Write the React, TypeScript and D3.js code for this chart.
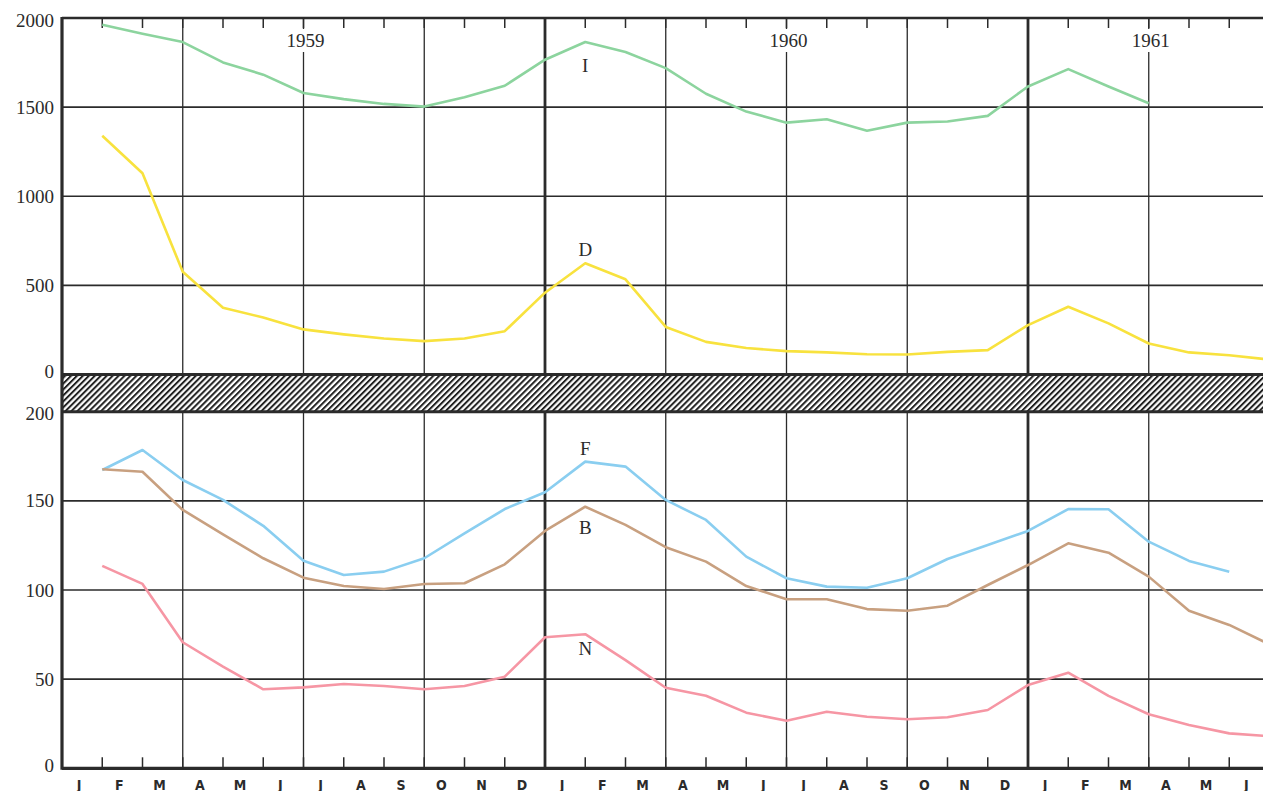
import * as d3 from "d3";

// month initials along the bottom, Jan 1959 .. Jun 1961
const monthLabels = [
  "J", "F", "M", "A", "M", "J", "J", "A", "S", "O", "N", "D",
  "J", "F", "M", "A", "M", "J", "J", "A", "S", "O", "N", "D",
  "J", "F", "M", "A", "M", "J",
];
const yearLabels = ["1959", "1960", "1961"];
const yearLabelPos = [6, 18, 27];

const topTicks = [0, 500, 1000, 1500, 2000];
const bottomTicks = [0, 50, 100, 150, 200];

// values start at the first month boundary (index 1)
const seriesI = [
  1962, 1912, 1865, 1751, 1682, 1579, 1545, 1518, 1503, 1556, 1620, 1766,
  1865, 1809, 1719, 1575, 1475, 1413, 1432, 1368, 1413, 1419, 1451, 1616,
  1713, 1616, 1522,
];
const seriesD = [
  1339, 1129, 576, 374, 320, 253, 225, 202, 187, 202, 243, 459,
  624, 534, 267, 183, 149, 131, 124, 114, 112, 127, 137, 277,
  380, 287, 174, 124, 108, 84,
];
const seriesF = [
  167.3, 178.5, 161.7, 150.5, 136, 116.4, 108.4, 110.3, 117.8, 131.8, 145.4, 154.8,
  172, 169.2, 150.5, 139.3, 118.7, 106.6, 101.9, 101.3, 106.6, 117.4, 125.2, 133.1,
  145.4, 145.3, 127.1, 116.3, 110.3,
];
const seriesB = [
  167.7, 166.3, 144.9, 131.2, 117.8, 106.9, 102.2, 100.6, 103.4, 103.8, 114.4, 133.1,
  146.7, 136.5, 124, 115.9, 102.2, 94.8, 94.8, 89.3, 88.4, 91.2, 102.8, 114,
  126.2, 120.9, 107.5, 88.4, 80.4, 69.5,
];
const seriesN = [
  113.5, 103.4, 70.7, 57, 44.3, 45.4, 47.3, 46.2, 44.3, 46.2, 51.4, 73.5,
  75.2, 60.7, 45.2, 40.7, 31.2, 26.7, 31.7, 28.9, 27.5, 28.6, 32.7, 46.7,
  53.6, 40.6, 30.3, 24.3, 19.6, 18,
];

const W = 1263;
const H = 791;
const ink = "#2b2b2b";
const serif = "'Liberation Serif', 'DejaVu Serif', serif";

export default function App() {
  const x = d3.scaleLinear().domain([0, 30]).range([62, 1269.5]);
  const yTop = d3.scaleLinear().domain([0, 2000]).range([374.5, 18]);
  const yBot = d3.scaleLinear().domain([0, 200]).range([768.3, 411.7]);

  const lineTop = d3
    .line<number>()
    .x((d, i) => x(i + 1))
    .y((d) => yTop(d));
  const lineBot = d3
    .line<number>()
    .x((d, i) => x(i + 1))
    .y((d) => yBot(d));

  const series = [
    { data: seriesI, line: lineTop, color: "rgb(140,212,158)" },
    { data: seriesD, line: lineTop, color: "rgb(248,226,62)" },
    { data: seriesF, line: lineBot, color: "rgb(138,206,240)" },
    { data: seriesB, line: lineBot, color: "rgb(200,160,128)" },
    { data: seriesN, line: lineBot, color: "rgb(246,150,164)" },
  ];

  const months = d3.range(0, 31);
  const gridMonths = months.filter((m) => m % 3 === 0 && m > 0);
  const tickMonths = months.filter((m) => m > 0);

  const left = x(0);
  const right = W + 10;

  const seriesLabels = [
    { t: "I", x: x(13), y: yTop(1731) },
    { t: "D", x: x(13), y: yTop(700) },
    { t: "F", x: x(13), y: yBot(179.5) },
    { t: "B", x: x(13), y: yBot(135.3) },
    { t: "N", x: x(13), y: yBot(67) },
  ];

  return (
    <svg
      width={W}
      height={H}
      style={{ position: "absolute", left: 0, top: 0, background: "#fff" }}
    >
      <defs>
        <pattern
          id="hatch"
          patternUnits="userSpaceOnUse"
          width={4.2}
          height={4.2}
          patternTransform="rotate(45)"
        >
          <rect x={0} y={0} width={4.2} height={4.2} fill="#fff" />
          <rect x={0} y={0} width={2} height={4.2} fill="#222" />
        </pattern>
      </defs>

      {/* horizontal grid */}
      {topTicks.map((t) => (
        <line
          key={"ht" + t}
          x1={left}
          x2={right}
          y1={yTop(t)}
          y2={yTop(t)}
          stroke={ink}
          strokeWidth={t === 2000 ? 2.4 : 1.6}
        />
      ))}
      {bottomTicks.map((t) => (
        <line
          key={"hb" + t}
          x1={left}
          x2={right}
          y1={yBot(t)}
          y2={yBot(t)}
          stroke={ink}
          strokeWidth={t === 0 ? 3.2 : 1.6}
        />
      ))}

      {/* vertical grid, thick at year starts */}
      {gridMonths.map((m) => (
        <g key={"v" + m}>
          <line
            x1={x(m)}
            x2={x(m)}
            y1={yTop(2000)}
            y2={yTop(0)}
            stroke={ink}
            strokeWidth={m % 12 === 0 ? 2.8 : 1.3}
          />
          <line
            x1={x(m)}
            x2={x(m)}
            y1={yBot(200)}
            y2={yBot(0)}
            stroke={ink}
            strokeWidth={m % 12 === 0 ? 2.8 : 1.3}
          />
        </g>
      ))}

      {/* month ticks */}
      {tickMonths.map((m) => (
        <g key={"t" + m}>
          <line x1={x(m)} x2={x(m)} y1={yTop(2000)} y2={yTop(2000) + 10} stroke={ink} strokeWidth={1.5} />
          <line x1={x(m)} x2={x(m)} y1={yBot(0)} y2={yBot(0) - 11} stroke={ink} strokeWidth={1.5} />
        </g>
      ))}

      {/* year labels */}
      {yearLabels.map((yl, i) => (
        <g key={yl}>
          <rect x={x(yearLabelPos[i]) - 24} y={29} width={48} height={23} fill="#fff" />
          <text
            x={x(yearLabelPos[i]) + 2}
            y={47}
            textAnchor="middle"
            fontFamily={serif}
            fontSize={19}
            fill={ink}
          >
            {yl}
          </text>
        </g>
      ))}

      {/* hatched break */}
      <rect
        x={left}
        y={yTop(0)}
        width={right - left}
        height={yBot(200) - yTop(0)}
        fill="url(#hatch)"
      />
      <line x1={left} x2={right} y1={yTop(0)} y2={yTop(0)} stroke={ink} strokeWidth={3} />
      <line x1={left} x2={right} y1={yBot(200)} y2={yBot(200)} stroke={ink} strokeWidth={3} />

      {/* left axis */}
      <line x1={left} x2={left} y1={yTop(2000) - 1} y2={yBot(0) + 1.5} stroke={ink} strokeWidth={3.2} />

      {/* series */}
      {series.map((s, i) => (
        <path
          key={"s" + i}
          d={s.line(s.data) || ""}
          fill="none"
          stroke={s.color}
          strokeWidth={2.6}
          strokeLinejoin="round"
        />
      ))}

      {seriesLabels.map((l) => (
        <text
          key={l.t}
          x={l.x}
          y={l.y}
          textAnchor="middle"
          dominantBaseline="central"
          fontFamily={serif}
          fontSize={19}
          fill={ink}
        >
          {l.t}
        </text>
      ))}

      {/* y tick labels */}
      {topTicks.map((t) => (
        <text
          key={"lt" + t}
          x={54}
          y={yTop(t) + (t === 2000 ? 2 : t === 0 ? -3 : 0)}
          textAnchor="end"
          dominantBaseline="central"
          fontFamily={serif}
          fontSize={19}
          fill={ink}
        >
          {t}
        </text>
      ))}
      {bottomTicks.map((t) => (
        <text
          key={"lb" + t}
          x={54}
          y={yBot(t) + (t === 200 ? 2 : t === 0 ? -3 : 0)}
          textAnchor="end"
          dominantBaseline="central"
          fontFamily={serif}
          fontSize={19}
          fill={ink}
        >
          {t}
        </text>
      ))}

      {/* month letters */}
      {monthLabels.map((ml, i) => (
        <text
          key={"m" + i}
          x={x(i + 0.5) - 3}
          y={789.5}
          textAnchor="middle"
          fontFamily="'Liberation Sans Narrow', 'DejaVu Sans Condensed', 'Liberation Sans', sans-serif"
          fontWeight="bold"
          fontSize={14}
          fill={ink}
        >
          {ml}
        </text>
      ))}
    </svg>
  );
}
